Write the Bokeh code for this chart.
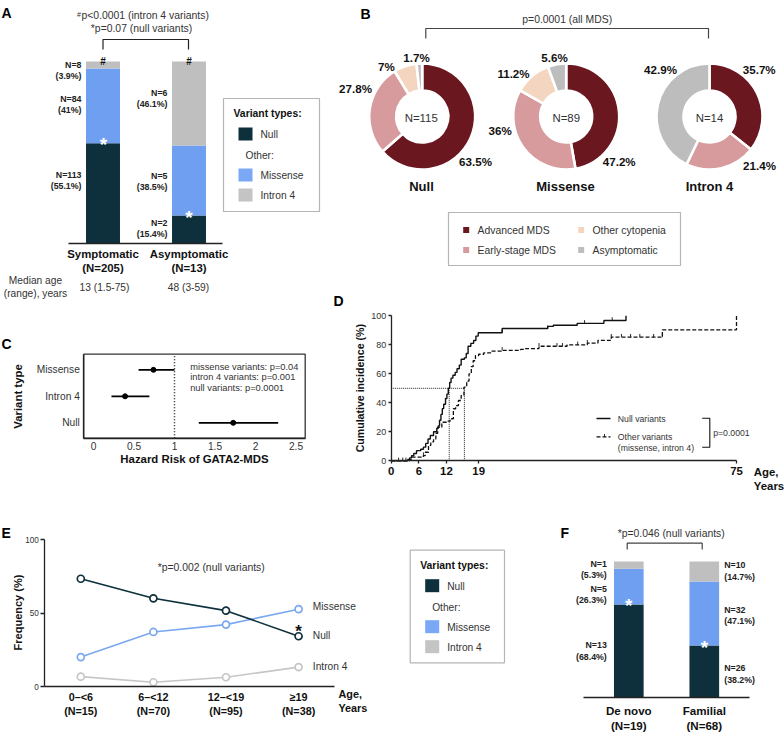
import math
from bokeh.plotting import figure
from bokeh.models import Range1d, LinearAxis, FixedTicker
from bokeh.layouts import row, column
from bokeh.embed import file_html
from bokeh.resources import INLINE
from bokeh.core.properties import value

# ---------- data ----------
VARIANTS = ["Null", "Missense", "Intron 4"]
A_GROUPS = ["Symptomatic\n(N=205)", "Asymptomatic\n(N=13)"]
A_NULL = [55.1, 15.4]
A_MISS = [41.0, 38.5]
A_INTRON = [3.9, 46.1]

B_NAMES = ["Null", "Missense", "Intron 4"]
B_STAGES = ["Advanced MDS", "Early-stage MDS", "Other cytopenia", "Asymptomatic"]
B_NULL = [63.5, 27.8, 7.0, 1.7]
B_MISS = [47.2, 36.0, 11.2, 5.6]
B_INTRON = [35.7, 21.4, 0.0, 42.9]

C_LABELS = ["Null", "Intron 4", "Missense"]
C_HR = [1.725, 0.39, 0.74]
C_LO = [1.30, 0.222, 0.556]
C_HI = [2.28, 0.69, 1.0]

D_NULL_AGE = [0, 3.6, 4.0, 4.4, 4.9, 5.5, 6.4, 7.0, 7.5, 8.0, 8.5, 9.2, 9.9, 10.2, 10.5, 10.8, 11.1, 11.4, 11.8, 12.1, 12.4, 12.7, 13.0, 13.4, 13.9, 14.3, 14.8, 15.2, 15.9, 16.3, 16.7, 17.3, 17.9, 18.4, 18.9, 24.1, 34.0, 35.2, 40.4, 46.2, 51.0]
D_NULL_PCT = [0, 0.9, 2, 3.5, 5, 7, 8, 9.4, 12, 15, 17.5, 20, 22.5, 24, 28, 32, 36, 39, 43, 46, 50, 54, 57, 59, 61, 63.5, 66, 70, 71, 74, 79, 81, 83, 86, 88.3, 91.2, 92.7, 93.5, 94.8, 96.8, 100]
D_OTHER_AGE = [0, 4.0, 4.5, 7.0, 7.4, 8.1, 8.6, 9.2, 9.7, 10.1, 11.0, 12.1, 12.8, 13.5, 14.0, 14.6, 15.2, 15.8, 16.4, 16.9, 17.4, 17.8, 18.3, 19.0, 20.1, 21.6, 24.1, 28.1, 29.2, 32.1, 38.2, 42.6, 44.9, 47.8, 58.9, 75.0]
D_OTHER_PCT = [0, 1.0, 2.5, 3.6, 5.9, 10.6, 13, 15, 19, 23, 26.6, 27.3, 29, 35.9, 38, 41.6, 45, 50.8, 55, 60, 65, 69, 72.6, 73.5, 74.5, 75.6, 76.2, 76.8, 77.4, 79.0, 80, 81.1, 83, 85.3, 90.3, 100]
D_NULL_CENS_AGE = [1.6, 2.5, 3.2, 24.1, 34.0, 42.0, 48.0]
D_NULL_CENS_PCT = [0, 0, 0, 88.3, 91.2, 94.8, 96.8]
D_OTHER_CENS_AGE = [7.0, 24.1, 32.1, 36.0, 37.2, 40.5, 42.6, 47.8, 50.0, 52.0, 54.0, 57.0, 58.9]
D_OTHER_CENS_PCT = [3.6, 76.2, 79.0, 79.0, 79.0, 80, 81.1, 85.3, 85.3, 85.3, 85.3, 85.3, 85.3]
D_X_TICKS = [0, 6, 12, 19, 75]
D_Y_TICKS = [0, 20, 40, 60, 80, 100]
D_MEDIANS = [12.6, 15.9]

E_GROUPS = ["0–<6\n(N=15)", "6–<12\n(N=70)", "12–<19\n(N=95)", "≥19\n(N=38)"]
E_NULL = [73.3, 60.0, 51.6, 34.2]
E_MISS = [20.0, 37.1, 42.1, 52.6]
E_INTRON = [6.7, 2.9, 6.3, 13.2]

F_GROUPS = ["De novo\n(N=19)", "Familial\n(N=68)"]
F_NULL = [68.4, 38.2]
F_MISS = [26.3, 47.1]
F_INTRON = [5.3, 14.7]

# ---------- style ----------
FONT = "Liberation Sans"
DARK, BLUE, GREY = "#0e2f3c", "#6f9ff0", "#bfbfbf"
TXT = "#333333"
STAGE_COL = ["#6b1720", "#d79a9d", "#f4d5c0", "#bdbdbd"]


class P:
    """A panel whose frame fills the figure; px/py are coordinates in the page picture."""
    def __init__(self, left, top, w, h, px0, v0, ppx, py0, u0, ppy):
        self.left, self.top = left, top
        self.px0, self.v0, self.ppx = px0, v0, ppx
        self.py0, self.u0, self.ppy = py0, u0, ppy
        self.f = figure(width=w, height=h, min_border=0, output_backend="svg", toolbar_location=None,
                        x_range=Range1d(self.X(left), self.X(left + w)),
                        y_range=Range1d(self.Y(top + h), self.Y(top)),
                        x_axis_location=None, y_axis_location=None, outline_line_color=None)
        self.f.grid.visible = False

    def X(self, px):
        return self.v0 + (px - self.px0) / self.ppx

    def Y(self, py):
        return self.u0 + (self.py0 - py) / self.ppy

    def t(self, px, py, s, size=10.4, bold=False, align="center", color=TXT, angle=0):
        self.f.text([self.X(px)], [self.Y(py)], text=[s], text_font=value(FONT),
                    text_font_size=f"{size}px", text_font_style="bold" if bold else "normal",
                    text_align=align, text_baseline="middle", text_color=color, angle=angle,
                    text_line_height=1.18)

    def ln(self, xs, ys, color="#222222", width=1.2, dash="solid"):
        self.f.line([self.X(x) for x in xs], [self.Y(y) for y in ys], line_color=color,
                    line_width=width, line_dash=dash)

    def box(self, x0, y0, x1, y1, fill=None, line=None, lw=1.0):
        self.f.quad(left=[self.X(x0)], right=[self.X(x1)], top=[self.Y(y0)], bottom=[self.Y(y1)],
                    fill_color=fill if fill else "white", fill_alpha=1.0 if fill else 0.0,
                    line_color=line, line_width=lw)

    def axis(self, side, at, ticks, bounds, size=9, bold=False, overrides=None, color=TXT,
             tick_out=0, standoff=3, lw=1.3, line=True, tick_color="#222222"):
        a = LinearAxis(ticker=FixedTicker(ticks=ticks), fixed_location=at, bounds=bounds)
        a.major_label_text_font = FONT
        a.major_label_text_font_size = f"{size}px"
        a.major_label_text_font_style = "bold" if bold else "normal"
        a.major_label_text_color = color
        a.major_tick_in = 0
        a.major_tick_out = tick_out
        a.major_tick_line_color = tick_color
        a.minor_tick_line_color = None
        a.major_label_standoff = standoff
        a.axis_line_color = "#222222" if line else None
        a.axis_line_width = lw
        a.major_tick_line_width = lw
        if overrides:
            a.major_label_overrides = overrides
        self.f.add_layout(a, side)
        return a


def stacked(p, values, width):
    bottoms = [0.0 for _ in values[0]]
    for vals, col in zip(values, (DARK, BLUE, GREY)):
        tops = [b + v for b, v in zip(bottoms, vals)]
        xs = list(range(len(vals)))
        p.f.vbar(x=xs, bottom=bottoms, top=tops, width=width, fill_color=col, line_color=None)
        bottoms = tops


def variant_legend(p, x0, y0, x1, y1):
    p.box(x0, y0, x1, y1, line="#b5b5b5", lw=1.2)
    p.t(x0 + 10, y0 + 15, "Variant types:", 10.4, True, "left", "#111111")
    sx0, sx1 = x0 + 15, x0 + 29
    p.box(sx0, y0 + 29, sx1, y0 + 42, fill=DARK)
    p.t(x0 + 37, y0 + 36, "Null", 10.2, align="left")
    p.t(x0 + 22, y0 + 57, "Other:", 10.2, align="left")
    p.box(sx0, y0 + 70, sx1, y0 + 83, fill="#7aa8f5")
    p.t(x0 + 37, y0 + 77, "Missense", 10.2, align="left")
    p.box(sx0, y0 + 90, sx1, y0 + 103, fill="#c4c4c4")
    p.t(x0 + 37, y0 + 97, "Intron 4", 10.2, align="left")


# ---------- A ----------
A = P(0, 0, 325, 300, 102.5, 0, 86, 243, 0, 1.82)
stacked(A, [A_NULL, A_MISS, A_INTRON], 0.395)
A.axis("below", 0, [0, 1], (A.X(68), A.X(222)), size=11.4, bold=True, color="#111111",
       overrides={0: A_GROUPS[0], 1: A_GROUPS[1]}, standoff=4, lw=1.5)
A.t(1, 12, "A", 14, True, "left", "#000000")
A.t(76.5, 14, "#", 7, align="left")
A.t(81, 15, "p<0.0001 (intron 4 variants)", 10.4, align="left")
A.t(141, 28, "*p=0.07 (null variants)")
A.ln([102.5, 102.5, 188, 188], [49, 39, 39, 49])
for xr, yc, s in [(81, 70, "N=8\n(3.9%)"), (81, 104, "N=84\n(41%)"), (81, 180, "N=113\n(55.1%)"),
                  (167, 98, "N=6\n(46.1%)"), (167, 181, "N=5\n(38.5%)"), (167, 228, "N=2\n(15.4%)")]:
    A.t(xr, yc, s, 8.8, True, "right", "#222222")
for xc in (102.5, 188.5):
    A.t(xc, 61, "#", 10, True, color="#111111")
A.t(103, 143.5, "*", 19, True, color="white")
A.t(188.5, 217, "*", 19, True, color="white")
A.t(35, 286.5, "Median age\n(range), years", 10.2)
A.t(104, 287, "13 (1.5-75)", 10.2)
A.t(188, 287, "48 (3-59)", 10.2)
variant_legend(A, 223, 98, 319, 211)

# ---------- B ----------
B = P(325, 0, 459, 290, 0, 0, 1, 0, 0, 1)
B_CENTER_PX = [421.7, 565.7, 709.0]
for cx, vals in zip(B_CENTER_PX, (B_NULL, B_MISS, B_INTRON)):
    ang = math.pi / 2
    for v, col in zip(vals, STAGE_COL):
        if v > 0:
            end = ang - 2 * math.pi * v / sum(vals)
            B.f.annular_wedge(x=[B.X(cx)], y=[B.Y(116)], inner_radius=26, outer_radius=53,
                              start_angle=ang, end_angle=end, direction="clock",
                              fill_color=col, line_color="white", line_width=2.6)
            ang = end
for cx, s in zip(B_CENTER_PX, ["N=115", "N=89", "N=14"]):
    B.t(cx + (-1 if s == "N=115" else 0), 117, s, 11.4)
for cx, s in zip((421, 565, 709), B_NAMES):
    B.t(cx, 186, s, 13, True, color="#111111")
for x, y, s in [(475, 161, "63.5%"), (355, 88, "27.8%"), (386, 66, "7%"), (416, 57, "1.7%"),
                (618.7, 161, "47.2%"), (499.7, 130, "36%"), (513, 73, "11.2%"), (554, 57, "5.6%"),
                (758.7, 68.7, "35.7%"), (759, 165, "21.4%"), (660, 68.7, "42.9%")]:
    B.t(x, y, s, 11.6, True, color="#111111")
B.t(360, 13, "B", 14, True, "left", "#000000")
B.t(566.7, 19.3, "p=0.0001 (all MDS)")
B.ln([425.3, 425.3, 708, 708], [38, 28, 28, 38], color="#444444")
B.box(448, 212, 680, 265, line="#b5b5b5", lw=1.2)
for (sx, tx, sy), s, col in zip([(462.7, 477, 226.5), (462.7, 477, 246.5), (577.7, 592, 226.5), (577.7, 592, 246.5)],
                                B_STAGES, STAGE_COL):
    B.box(sx, sy, sx + 6, sy + 6, fill=col)
    B.t(tx, sy + 3.5, s, 10.4, align="left")

# ---------- C ----------
C = P(0, 300, 325, 195, 93, 0, 81, 422.3, 0, 26.5)
C.box(83.3, 353.7, 304.7, 437.7, line="#333333", lw=1.3)
C.axis("below", C.Y(437.7), [0, 0.5, 1, 1.5, 2, 2.5], (C.X(83.3), C.X(304.7)), size=10.2, standoff=4,
       overrides={0: "0", 0.5: "0.5", 1: "1", 1.5: "1.5", 2: "2", 2.5: "2.5"})
C.axis("left", C.X(83.3), [0, 1, 2], (C.Y(437.7), C.Y(353.7)), size=10.2, standoff=4,
       overrides={i: s for i, s in enumerate(C_LABELS)})
C.f.line([1, 1], [C.Y(437.7), C.Y(353.7)], line_color="#222222", line_width=1.5, line_dash="1 2")
rows_c = list(range(len(C_HR)))
C.f.segment(x0=C_LO, x1=C_HI, y0=rows_c, y1=rows_c, line_color="#000000", line_width=1.8)
C.f.scatter(C_HR, rows_c, size=5, fill_color="#000000", line_color="#000000")
C.t(1, 343, "C", 14, True, "left", "#000000")
C.t(17.7, 396, "Variant type", 11.4, True, color="#111111", angle=math.pi / 2)
C.t(194, 458.7, "Hazard Risk of GATA2-MDS", 11.4, True, color="#111111")
for y, s in [(366, "missense variants: p=0.04"), (376.7, "intron 4 variants: p=0.001"), (387.3, "null variants: p=0.0001")]:
    C.t(189.7, y, s, 9.3, align="left")

# ---------- D ----------
D = P(325, 290, 459, 205, 390.7, 0, 4.604, 460.3, 0, 1.45)
D.axis("below", 0, D_X_TICKS, (0, 75), size=11.4, bold=True, color="#111111", tick_out=3, standoff=3)
D.axis("left", 0, D_Y_TICKS, (0, 100), size=9, tick_out=3, standoff=2)
D.f.line([0, D_MEDIANS[1]], [50, 50], line_color="#222222", line_width=1, line_dash="1 1")
for m in D_MEDIANS:
    D.f.line([m, m], [0, 50], line_color="#222222", line_width=1, line_dash="1 1")
D.f.step(D_NULL_AGE, D_NULL_PCT, mode="after", line_color="#111111", line_width=1.4)
D.f.step(D_OTHER_AGE, D_OTHER_PCT, mode="after", line_color="#111111", line_width=1.3, line_dash="4 2")
D.f.segment(x0=D_NULL_CENS_AGE, x1=D_NULL_CENS_AGE, y0=D_NULL_CENS_PCT, y1=[v + 2.2 for v in D_NULL_CENS_PCT],
            line_color="#111111", line_width=0.9)
D.f.segment(x0=D_OTHER_CENS_AGE, x1=D_OTHER_CENS_AGE, y0=D_OTHER_CENS_PCT, y1=[v + 2.2 for v in D_OTHER_CENS_PCT],
            line_color="#111111", line_width=0.9)
D.t(333, 300, "D", 14, True, "left", "#000000")
D.t(359, 387.7, "Cumulative incidence (%)", 10.6, True, color="#111111", angle=math.pi / 2)
D.ln([596, 610], [418, 418], color="#111111", width=1.3)
D.ln([596, 610], [436.3, 436.3], color="#111111", width=1.3, dash="4 2")
D.ln([604, 604], [433.5, 436.3], color="#111111", width=0.9)
D.t(617.3, 418, "Null variants", 8.7, align="left")
D.t(617.3, 442, "Other variants\n(missense, intron 4)", 8.7, align="left")
D.ln([701.7, 709.3, 709.3, 701.7], [417.7, 417.7, 446.7, 446.7], color="#111111", width=1.1)
D.t(712.7, 432.7, "p=0.0001", 8.7, align="left")
D.t(753.3, 478.5, "Age,\nYears", 11.4, True, "left", "#111111")

# ---------- E ----------
E = P(0, 495, 540, 237, 80.3, 0, 72.6, 686, 0, 1.47)
E.axis("below", 0, [0, 1, 2, 3], (E.X(44.3), E.X(334)), size=10.8, bold=True, color="#111111",
       overrides={i: s for i, s in enumerate(E_GROUPS)}, standoff=4)
E.axis("left", E.X(44.3), [0, 50, 100], (0, 100), size=8.2, tick_out=4, standoff=2)
xe = list(range(len(E_NULL)))
for vals, col, lw in [(E_INTRON, "#c6c6c6", 1.6), (E_MISS, "#7aa8f0", 1.6), (E_NULL, DARK, 1.6)]:
    E.f.line(xe, vals, line_color=col, line_width=lw)
    E.f.scatter(xe, vals, size=7, fill_color="white", line_color=col, line_width=1.7)
E.t(1, 532, "E", 14, True, "left", "#000000")
E.t(17, 612, "Frequency (%)", 11, True, color="#111111", angle=math.pi / 2)
E.t(210.7, 567, "*p=0.002 (null variants)")
E.t(312.3, 606.3, "Missense", 10.2, align="left")
E.t(312.3, 635, "Null", 10.2, align="left")
E.t(312.3, 666, "Intron 4", 10.2, align="left")
E.t(298, 631, "*", 17, True, color="#111111")
E.t(338, 700.5, "Age,\nYears", 10.8, True, "left", "#111111")
variant_legend(E, 409.7, 549.7, 504, 662.3)

# ---------- F ----------
F = P(540, 495, 244, 237, 628.3, 0, 75.5, 697, 0, 1.36)
stacked(F, [F_NULL, F_MISS, F_INTRON], 0.393)
F.axis("below", 0, [0, 1], (F.X(583.3), F.X(749)), size=11.6, bold=True, color="#111111",
       overrides={i: s for i, s in enumerate(F_GROUPS)}, standoff=6, lw=1.4)
F.t(560, 532, "F", 14, True, "left", "#000000")
F.t(670.7, 533, "*p=0.046 (null variants)")
F.ln([626.7, 626.7, 701.7, 701.7], [549, 542.7, 542.7, 549], color="#444444")
for xr, yc, s in [(606.3, 569, "N=1\n(5.3%)"), (606.3, 594, "N=5\n(26.3%)"), (606.3, 650.7, "N=13\n(68.4%)")]:
    F.t(xr, yc, s, 8.8, True, "right", "#222222")
for xl, yc, s in [(723.7, 570.8, "N=10\n(14.7%)"), (723.7, 615, "N=32\n(47.1%)"), (723.7, 673.7, "N=26\n(38.2%)")]:
    F.t(xl, yc, s, 8.8, True, "left", "#222222")
F.t(628.3, 605, "*", 19, True, color="white")
F.t(704, 647, "*", 19, True, color="white")

root = column(
    row(column(A.f, C.f), column(B.f, D.f)),
    row(E.f, F.f),
)
open("out.html", "w").write(file_html(root, INLINE))
